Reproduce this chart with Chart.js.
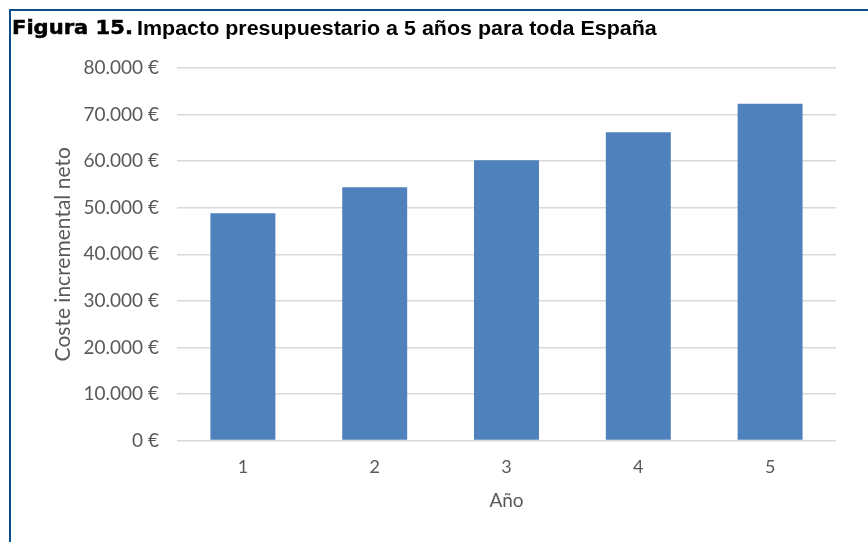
<!DOCTYPE html>
<html>
<head>
<meta charset="utf-8">
<script src="https://cdn.jsdelivr.net/npm/chart.js@4.4.1/dist/chart.umd.min.js"></script>
<style>
  html, body { margin: 0; padding: 0; background: #fff; }
  #wrap { position: relative; width: 868px; height: 542px; overflow: hidden; }
  #frame { position: absolute; left: 9px; top: 9px; width: 900px; height: 600px;
           border-top: 2px solid #0b4d87; border-left: 2px solid #0b4d87; }
  .t { position: absolute; top: 18px; font-weight: bold; line-height: 20px; color: #000; white-space: nowrap; transform-origin: 0 0; }
  #fig { left: 12px; font-family: "DejaVu Sans", sans-serif; font-size: 19.5px; -webkit-text-stroke: 0.5px #000;
         transform: scaleX(1.08); }
  #rest { left: 137px; font-family: "Liberation Sans", Arial, sans-serif; font-size: 19.5px;
          transform: scaleX(1.10); }
  #c { position: absolute; left: 0; top: 0; }
</style>
</head>
<body>
<div id="wrap">
  <canvas id="c" width="868" height="542"></canvas>
  <div id="frame"></div>
  <div class="t" id="fig">Figura 15.</div>
  <div class="t" id="rest">Impacto presupuestario a 5 años para toda España</div>
</div>
<script>
const years = ['1', '2', '3', '4', '5'];
const netCost = [48800, 54400, 60200, 66200, 72300];
const yTicks = [0, 10000, 20000, 30000, 40000, 50000, 60000, 70000, 80000];
const xTitle = 'Año';
const yTitle = 'Coste incremental neto';

function fmtEuro(v) {
  return String(v).replace(/\B(?=(\d{3})+(?!\d))/g, '.') + ' €';
}

const grey = '#595959';
new Chart(document.getElementById('c'), {
  type: 'bar',
  data: {
    labels: years,
    datasets: [{
      data: netCost,
      backgroundColor: '#4f81bd',
      borderWidth: 0,
      categoryPercentage: 1,
      barPercentage: 0.493
    }]
  },
  options: {
    responsive: false,
    animation: false,
    events: [],
    layout: { padding: { top: 68, right: 32, left: 0, bottom: 30 } },
    plugins: { legend: { display: false }, tooltip: { enabled: false }, title: { display: false } },
    scales: {
      x: {
        afterFit: (s) => { s.height = 71.4; },
        grid: { display: false, drawTicks: false },
        border: { display: false },
        ticks: { color: grey, padding: 16, font: { family: 'Lato', size: 18 } },
        title: { display: true, text: xTitle, color: grey, font: { family: 'Lato', size: 19 },
                 padding: { top: 0, bottom: 0 } }
      },
      y: {
        min: 0, max: 80000,
        afterBuildTicks: (s) => { s.ticks = yTicks.map(v => ({ value: v })); },
        afterFit: (s) => { s.width = 177; },
        grid: { color: '#d9d9d9', lineWidth: 1.5, drawTicks: false },
        border: { display: false },
        ticks: { color: grey, padding: 18, font: { family: 'Lato', size: 19 },
                 callback: (v) => fmtEuro(v) },
        title: { display: true, text: yTitle, color: grey, font: { family: 'Lato', size: 21 },
                 padding: { top: 51, bottom: 0 } }
      }
    }
  }
});
</script>
</body>
</html>
